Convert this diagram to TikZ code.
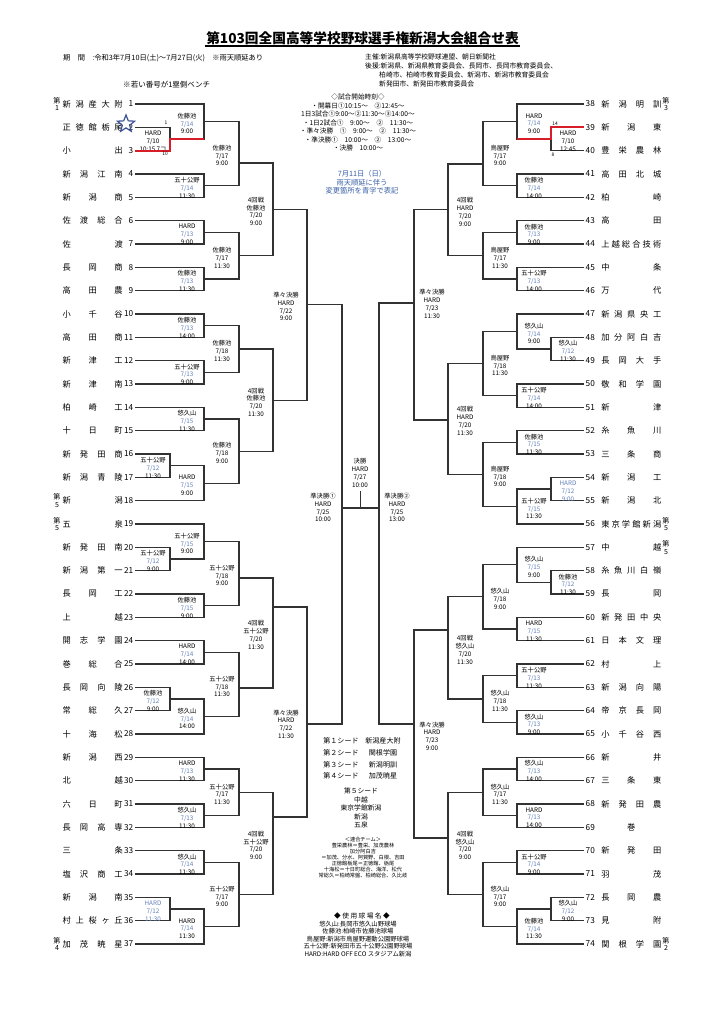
\documentclass[tikz,border=0pt]{standalone}
\usepackage{fontspec}
\setmainfont{Noto Sans CJK JP}
\usetikzlibrary{calc,shapes.geometric}

\definecolor{chg}{RGB}{100,130,185}
\definecolor{upd}{RGB}{55,95,165}
\definecolor{win}{RGB}{215,30,40}
\definecolor{bk}{RGB}{50,50,50}
\definecolor{stb}{RGB}{60,80,150}

\newlength\pxu
\setlength\pxu{0.8255pt}

% spread the characters of a team name over the name column
\def\spreadit#1{\spreadA#1\relax}
\def\spreadA#1{\ifx\relax#1\else#1\expandafter\spreadB\fi}
\def\spreadB#1{\ifx\relax#1\else\hfill#1\expandafter\spreadB\fi}
\newcommand\tname[1]{\hbox to 60\pxu{\expandafter\spreadit\expandafter{#1}}}

% venue / date / time, date changed after the rain (blue)
\newcommand\vd[3]{#1\\\textcolor{chg}{#2}\\#3}
\newcommand\vb[3]{\textcolor{chg}{#1}\\\textcolor{chg}{#2}\\\textcolor{chg}{#3}}

% one game: [label dy]{name}{upper}{lower}{line}{label dx}{label}
\newcommand\game[7][0]{%
  \draw[bline] (#3) -- (#3 -| #5) -- (#4 -| #5) -- (#4);
  \coordinate (#2) at ($(#3 -| #5)!0.5!(#4 -| #5)$);
  \node[lab] (#2-l) at ($(#2)+(#6,2+#1)$) {#7};
}

\tikzset{
  bline/.style={draw=bk, line width=0.85pt},
  wline/.style={draw=win, line width=1.6pt},
  lab/.style={font=\fontsize{5.2}{6.4}\selectfont, align=center, inner sep=0pt},
  tnum/.style={font=\fontsize{6.8}{7}\selectfont, inner sep=1.2pt},
  tnm/.style={font=\fontsize{6.8}{7}\selectfont, inner sep=0pt},
  seed/.style={font=\fontsize{5.8}{6.2}\selectfont, align=center, inner sep=0pt},
  info/.style={font=\fontsize{5.5}{7}\selectfont, align=center, inner sep=0pt},
  score/.style={font=\fontsize{4}{4}\selectfont, inner sep=0pt},
}

\begin{document}
\begin{tikzpicture}[x=0.8255pt, y=-0.8255pt]
  \fill[white] (0,0) rectangle (724,1024);
  \useasboundingbox (0,0) rectangle (724,1024);

  % header
  \node[font=\fontsize{11.3}{12}\selectfont\bfseries, inner sep=1pt] (title) at (362.5,38)
    {第103回全国高等学校野球選手権新潟大会組合せ表};
  \draw[line width=0.9pt] (title.south west) -- (title.south east);
  \node[anchor=west, inner sep=0pt, font=\fontsize{6}{7}\selectfont] (period) at (63,58)
    {期　間　:令和3年7月10日(土)～7月27日(火)　※雨天順延あり};
  \node[anchor=west, inner sep=0pt, font=\fontsize{6.2}{7}\selectfont] (bench) at (123,85)
    {※若い番号が1塁側ベンチ};
  \node[anchor=west, align=left, inner sep=0pt, font=\fontsize{5.6}{7.4}\selectfont] (org) at (365,70.5)
    {主催:新潟県高等学校野球連盟、朝日新聞社\\
     後援:新潟県、新潟県教育委員会、長岡市、長岡市教育委員会、\\
     \hspace*{14\pxu}柏崎市、柏崎市教育委員会、新潟市、新潟市教育委員会\\
     \hspace*{14\pxu}新発田市、新発田市教育委員会};
  \node[info] (times) at (358,122.5)
    {◇試合開始時刻◇\\・開幕日①10:15～　②12:45～\\1日3試合①9:00～②11:30～③14:00～\\
     ・1日2試合①　9:00～　②　11:30～\\・準々決勝　①　9:00～　②　11:30～\\
     ・準決勝①　10:00～　②　13:00～\\・決勝　10:00～};
  \node[info, text=upd, font=\fontsize{6}{7}\selectfont] (rain) at (362,182.5)
    {7月11日（日）\\雨天順延に伴う\\変更箇所を青字で表記};

  % teams
  \foreach \nm [count=\i] in {新潟産大附,正徳館栃尾,小出,新潟江南,新潟商,佐渡総合,佐渡,
      長岡商,高田農,小千谷,高田商,新津工,新津南,柏崎工,十日町,新発田商,新潟青陵,新潟,
      五泉,新発田南,新潟第一,長岡工,上越,開志学園,巻総合,長岡向陵,常総久,十海松,新潟西,
      北越,六日町,長岡高専,三条,塩沢商工,新潟南,村上桜ヶ丘,加茂暁星} {
    \pgfmathsetmacro\yy{104+(\i-1)*23.333}
    \node[tnum, anchor=east] (n\i) at (135,\yy) {\i};
    \node[tnm, anchor=west] (s\i) at (62.5,\yy) {\tname{\nm}};
  }
  \foreach \nm [count=\j from 38] in {新潟明訓,新潟東,豊栄農林,高田北城,柏崎,高田,上越総合技術,
      中条,万代,新潟県央工,加分阿白吉,長岡大手,敬和学園,新津,糸魚川,三条商,新潟工,新潟北,
      東京学館新潟,中越,糸魚川白嶺,長岡,新発田中央,日本文理,村上,新潟向陽,帝京長岡,小千谷西,
      新井,三条東,新発田農,\hfill 巻\hfill,新発田,羽茂,長岡農,見附,関根学園} {
    \pgfmathsetmacro\yy{104+(\j-38)*23.333}
    \node[tnum, anchor=west] (n\j) at (584,\yy) {\j};
    \node[tnm, anchor=west] (s\j) at (601,\yy) {\tname{\nm}};
  }
  \foreach \r/\k/\sx in {1/1/57,18/5/57,19/5/57,37/4/57,38/3/666,56/5/666,57/5/666,74/2/666} {
    \node[seed] (seed\r) at (\sx,0 |- n\r) {第\\\k};
  }
  \node[star, star points=5, star point ratio=2.3, draw=stb, line width=1pt,
        minimum size=18\pxu, inner sep=0pt] (star) at (126,124) {};

  % bracket lines
  \coordinate (L1) at (170,0); \coordinate (L2) at (204,0); \coordinate (L3) at (239,0);
  \coordinate (L4) at (273,0); \coordinate (L5) at (307,0); \coordinate (L6) at (342,0);
  \coordinate (R1) at (551,0); \coordinate (R2) at (517,0); \coordinate (R3) at (483,0);
  \coordinate (R4) at (448,0); \coordinate (R5) at (414,0); \coordinate (R6) at (379,0);

  % left, upper half
  \game{m23}{n2}{n3}{L1}{-17}{HARD\\7/10\\10:15 7コ}
  \game{m1}{n1}{m23}{L2}{-17}{\vd{佐藤池}{7/14}{9:00}}
  \game{m45}{n4}{n5}{L2}{-17}{\vd{五十公野}{7/14}{11:30}}
  \game{a3}{m1}{m45}{L3}{-17}{佐藤池\\7/17\\9:00}
  \coordinate (a3) at (L3 |- 0,163);
  \game{m67}{n6}{n7}{L2}{-17}{\vd{HARD}{7/13}{9:00}}
  \game{m89}{n8}{n9}{L2}{-17}{\vd{佐藤池}{7/13}{11:30}}
  \game{b3}{m67}{m89}{L3}{-17}{佐藤池\\7/17\\11:30}
  \game{q4a}{a3}{b3}{L4}{-17}{4回戦\\佐藤池\\7/20\\9:00}
  \game{m1011}{n10}{n11}{L2}{-17}{\vd{佐藤池}{7/13}{14:00}}
  \game{m1213}{n12}{n13}{L2}{-17}{\vd{五十公野}{7/13}{9:00}}
  \game{c3}{m1011}{m1213}{L3}{-17}{佐藤池\\7/18\\11:30}
  \game{m1415}{n14}{n15}{L2}{-17}{\vd{悠久山}{7/15}{11:30}}
  \game{m1617}{n16}{n17}{L1}{-17}{\vd{五十公野}{7/12}{11:30}}
  \game{m18}{m1617}{n18}{L2}{-17}{\vd{HARD}{7/15}{9:00}}
  \game{d3}{m1415}{m18}{L3}{-17}{佐藤池\\7/18\\9:00}
  \game{q4b}{c3}{d3}{L4}{-17}{4回戦\\佐藤池\\7/20\\11:30}
  \game{qf1}{q4a}{q4b}{L5}{-21}{準々決勝\\HARD\\7/22\\9:00}

  % left, lower half
  \game{m2021}{n20}{n21}{L1}{-17}{\vd{五十公野}{7/12}{9:00}}
  \game{m19}{n19}{m2021}{L2}{-17}{\vd{五十公野}{7/15}{9:00}}
  \game{m2223}{n22}{n23}{L2}{-17}{\vd{佐藤池}{7/15}{9:00}}
  \game{e3}{m19}{m2223}{L3}{-17}{五十公野\\7/18\\9:00}
  \coordinate (e3) at (L3 |- 0,578);
  \game{m2425}{n24}{n25}{L2}{-17}{\vd{HARD}{7/14}{14:00}}
  \game{m2627}{n26}{n27}{L1}{-17}{\vd{佐藤池}{7/12}{9:00}}
  \game{m28}{m2627}{n28}{L2}{-17}{\vd{悠久山}{7/14}{14:00}}
  \game{f3}{m2425}{m28}{L3}{-17}{五十公野\\7/18\\11:30}
  \coordinate (f3) at (L3 |- 0,688);
  \game{q4c}{e3}{f3}{L4}{-17}{4回戦\\五十公野\\7/20\\11:30}
  \coordinate (q4c) at (L4 |- 0,607);
  \game{m2930}{n29}{n30}{L2}{-17}{\vd{HARD}{7/13}{11:30}}
  \game{m3132}{n31}{n32}{L2}{-17}{\vd{悠久山}{7/13}{11:30}}
  \game{g3}{m2930}{m3132}{L3}{-17}{五十公野\\7/17\\11:30}
  \game{m3334}{n33}{n34}{L2}{-17}{\vd{悠久山}{7/14}{11:30}}
  \game{m3536}{n35}{n36}{L1}{-17}{\vb{HARD}{7/12}{11:30}}
  \game{m37}{m3536}{n37}{L2}{-17}{\vd{HARD}{7/14}{11:30}}
  \game{h3}{m3334}{m37}{L3}{-17}{五十公野\\7/17\\9:00}
  \game{q4d}{g3}{h3}{L4}{-17}{4回戦\\五十公野\\7/20\\9:00}
  \coordinate (q4d) at (L4 |- 0,817);
  \game[10]{qf2}{q4c}{q4d}{L5}{-21}{準々決勝\\HARD\\7/22\\11:30}
  \coordinate (qf2) at (L5 |- 0,724);

  % right, upper half
  \game{m3940}{n39}{n40}{R1}{17}{HARD\\7/10\\12:45}
  \game{m38}{n38}{m3940}{R2}{17}{\vd{HARD}{7/14}{9:00}}
  \game{m4142}{n41}{n42}{R2}{17}{\vd{佐藤池}{7/14}{14:00}}
  \game{i3}{m38}{m4142}{R3}{17}{鳥屋野\\7/17\\9:00}
  \coordinate (i3) at (R3 |- 0,164);
  \game{m4344}{n43}{n44}{R2}{17}{\vd{佐藤池}{7/13}{9:00}}
  \game{m4546}{n45}{n46}{R2}{17}{\vd{五十公野}{7/13}{14:00}}
  \game{j3}{m4344}{m4546}{R3}{17}{鳥屋野\\7/17\\11:30}
  \game{q4e}{i3}{j3}{R4}{17}{4回戦\\HARD\\7/20\\9:00}
  \game{m4849}{n48}{n49}{R1}{17}{\vd{悠久山}{7/12}{11:30}}
  \game{m47}{n47}{m4849}{R2}{17}{\vd{悠久山}{7/14}{9:00}}
  \game{m5051}{n50}{n51}{R2}{17}{\vd{五十公野}{7/14}{14:00}}
  \game{k3}{m47}{m5051}{R3}{17}{鳥屋野\\7/18\\11:30}
  \game{m5253}{n52}{n53}{R2}{17}{\vd{佐藤池}{7/15}{11:30}}
  \game{m5455}{n54}{n55}{R1}{17}{\vb{HARD}{7/12}{9:00}}
  \game{m56}{m5455}{n56}{R2}{17}{\vd{五十公野}{7/15}{11:30}}
  \game{l3}{m5253}{m56}{R3}{17}{鳥屋野\\7/18\\9:00}
  \game{q4f}{k3}{l3}{R4}{17}{4回戦\\HARD\\7/20\\11:30}
  \coordinate (q4f) at (R4 |- 0,420);
  \game[-13]{qf3}{q4e}{q4f}{R5}{18}{準々決勝\\HARD\\7/23\\11:30}
  \coordinate (qf3) at (R5 |- 0,303);

  % right, lower half
  \game{m5859}{n58}{n59}{R1}{17}{\vd{佐藤池}{7/12}{11:30}}
  \game{m57}{n57}{m5859}{R2}{17}{\vd{悠久山}{7/15}{9:00}}
  \game{m6061}{n60}{n61}{R2}{17}{\vd{HARD}{7/15}{11:30}}
  \game{p3}{m57}{m6061}{R3}{17}{悠久山\\7/18\\9:00}
  \game{m6263}{n62}{n63}{R2}{17}{\vd{五十公野}{7/13}{11:30}}
  \game{m6465}{n64}{n65}{R2}{17}{\vd{悠久山}{7/13}{9:00}}
  \game{r3}{m6263}{m6465}{R3}{17}{悠久山\\7/18\\11:30}
  \game{q4g}{p3}{r3}{R4}{17}{4回戦\\悠久山\\7/20\\11:30}
  \coordinate (q4g) at (R4 |- 0,630);
  \game{m6667}{n66}{n67}{R2}{17}{\vd{悠久山}{7/13}{14:00}}
  \game{m6869}{n68}{n69}{R2}{17}{\vd{HARD}{7/13}{14:00}}
  \game{s3}{m6667}{m6869}{R3}{17}{悠久山\\7/17\\11:30}
  \game{m7071}{n70}{n71}{R2}{17}{\vd{五十公野}{7/14}{9:00}}
  \game{m7273}{n72}{n73}{R1}{17}{\vd{悠久山}{7/12}{9:00}}
  \game{m74}{m7273}{n74}{R2}{17}{\vd{佐藤池}{7/14}{11:30}}
  \game{u3}{m7071}{m74}{R3}{17}{悠久山\\7/17\\9:00}
  \game{q4h}{s3}{u3}{R4}{17}{4回戦\\悠久山\\7/20\\9:00}
  \coordinate (q4h) at (R4 |- 0,838);
  \game{qf4}{q4g}{q4h}{R5}{18}{準々決勝\\HARD\\7/23\\9:00}
  \coordinate (qf4) at (R5 |- 0,724);

  % winners of the opening games
  \draw[wline] (n3) -- (n3 -| L1) -- (m23) -- (m23 -| L2);
  \draw[wline] (n39) -- (n39 -| R1) -- (m3940) -- (m3940 -| R2);
  \node[score] (sc2) at (166,123) {1};
  \node[score] (sc3) at (165,154) {10};
  \node[score] (sc39) at (555,124) {14};
  \node[score] (sc40) at (553,155) {8};

  % semi-finals and final
  \draw[bline] (qf1) -- (qf1 -| L6) -- (qf2 -| L6) -- (qf2);
  \draw[bline] (qf3) -- (qf3 -| R6) -- (qf4 -| R6) -- (qf4);
  \coordinate (fl) at (L6 |- 0,508);
  \coordinate (fr) at (R6 |- 0,508);
  \coordinate (fin) at ($(fl)!0.5!(fr)$);
  \coordinate (fintop) at ($(fin)+(0,-17)$);
  \draw[bline] (fl) -- (fr);
  \draw[bline] (fin) -- (fintop);
  \node[lab] (sf1-l) at (323,507.5) {準決勝①\\HARD\\7/25\\10:00};
  \node[lab] (sf2-l) at (397,507.5) {準決勝②\\HARD\\7/25\\13:00};
  \node[lab] (fin-l) at (360,473) {決勝\\HARD\\7/27\\10:00};

  % seeds, joint teams, venues
  \foreach \k/\nm [count=\c] in {１/新潟産大附,２/関根学園,３/新潟明訓,４/加茂暁星} {
    \pgfmathsetmacro\yy{741+(\c-1)*11.7}
    \node[info, font=\fontsize{5.8}{7}\selectfont] (sk\c) at (341,\yy) {第\k シード};
    \node[info, font=\fontsize{5.8}{7}\selectfont] (sn\c) at (383,\yy) {\nm};
  }
  \node[info, font=\fontsize{5.6}{7.1}\selectfont] (seed5) at (361,808)
    {第５シード\\中越\\東京学館新潟\\新潟\\五泉};
  \node[info, font=\fontsize{4.3}{4.95}\selectfont] (joint) at (363,858)
    {＜連合チーム＞\\豊栄農林＝豊栄、加茂農林\\加分阿白吉\\＝加茂、分水、阿賀野、白根、吉田\\
     正徳館栃尾＝正徳館、栃尾\\十海松＝十日町総合、海洋、松代\\常総久＝柏崎常盤、柏崎総合、久比岐};
  \node[info, font=\fontsize{5.5}{7}\selectfont] (vhead) at (362,916) {◆ 使 用 球 場 名 ◆};
  \node[info, font=\fontsize{5.2}{6.2}\selectfont] (venues) at (358,939)
    {悠久山:長岡市悠久山野球場\\佐藤池:柏崎市佐藤池球場\\鳥屋野:新潟市鳥屋野運動公園野球場\\
     五十公野:新発田市五十公野公園野球場\\HARD:HARD OFF ECO スタジアム新潟};
\end{tikzpicture}
\end{document}
